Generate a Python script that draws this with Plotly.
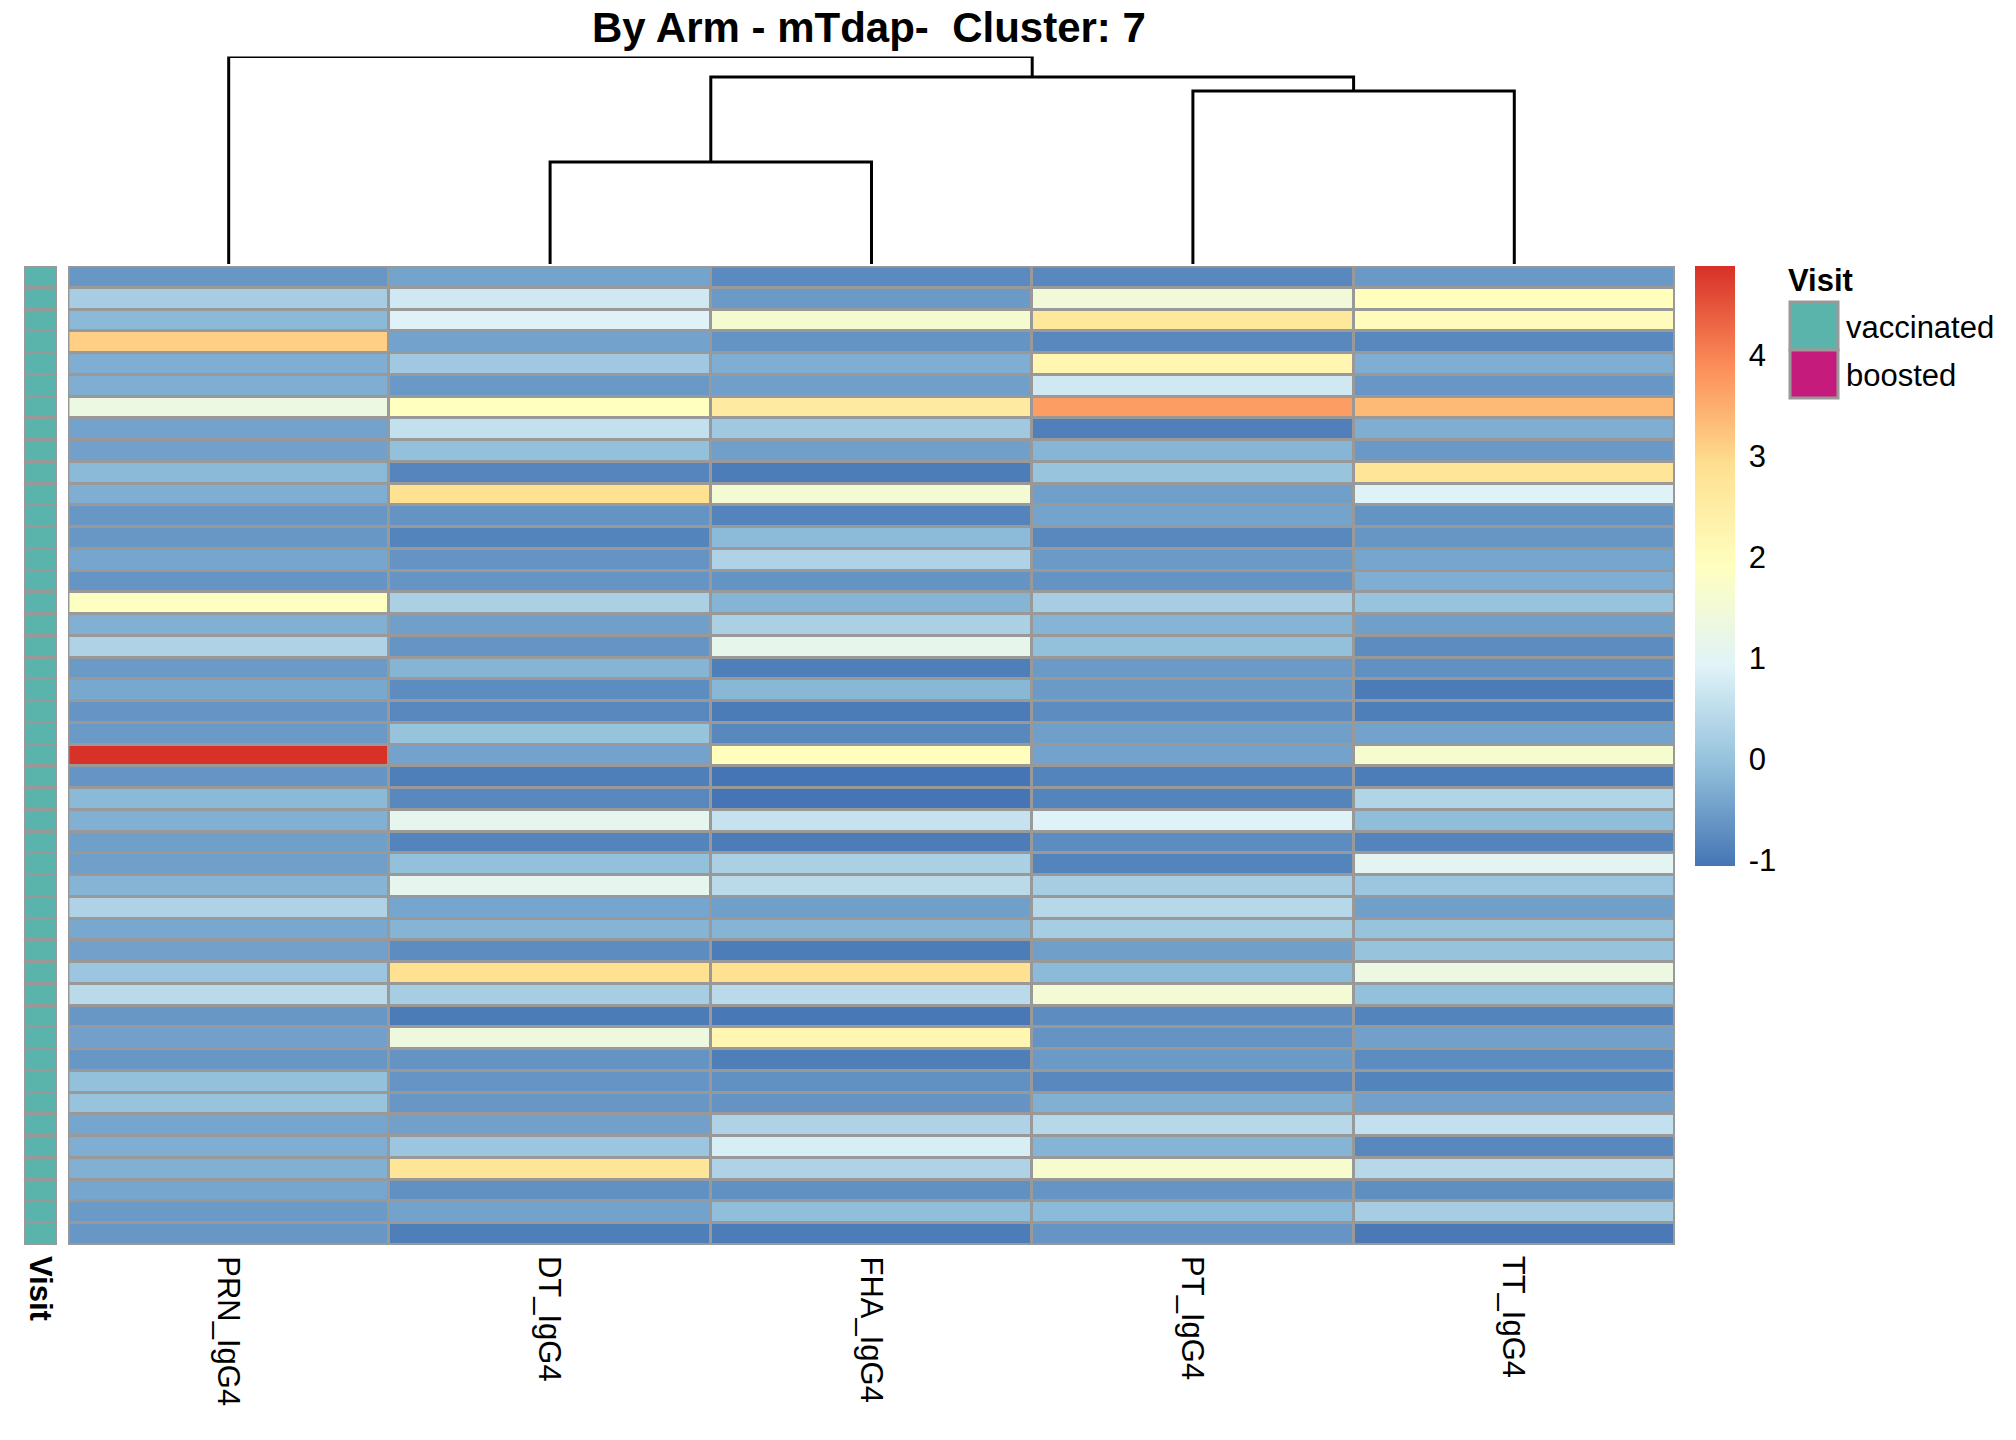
import plotly.graph_objects as go

W, H = 2016, 1440

# ---------------- data ----------------
antigens = ["PRN_IgG4", "DT_IgG4", "FHA_IgG4", "PT_IgG4", "TT_IgG4"]

PRN = [-0.6, 0.2, -0.15, 3.1, -0.3, -0.3, 1.3, -0.46, -0.48, -0.15, -0.3, -0.6, -0.6, -0.42, -0.63,
       1.85, -0.27, 0.3, -0.57, -0.38, -0.63, -0.57, 4.87, -0.63, -0.15, -0.27, -0.5, -0.5, -0.22, 0.3,
       -0.38, -0.48, 0.07, 0.45, -0.6, -0.48, -0.6, -0.04, 0.0, -0.42, -0.3, -0.27, -0.42, -0.57, -0.6]
DT = [-0.45, 0.72, 0.9, -0.46, 0.12, -0.58, 1.92, 0.55, -0.04, -0.85, 2.85, -0.66, -0.86, -0.66, -0.64,
      0.25, -0.5, -0.63, -0.22, -0.75, -0.8, 0.0, -0.46, -0.93, -0.8, 1.1, -0.86, -0.04, 1.1, -0.42,
      -0.22, -0.75, 2.85, 0.2, -0.97, 1.35, -0.66, -0.64, -0.6, -0.48, 0.07, 2.75, -0.69, -0.46, -0.93]
FHA = [-0.78, -0.57, 1.6, -0.65, -0.3, -0.5, 2.55, 0.12, -0.5, -0.95, 1.55, -0.86, -0.13, 0.3, -0.65,
       -0.22, 0.25, 1.15, -0.93, -0.17, -0.97, -0.8, 1.95, -1.06, -1.06, 0.6, -0.95, 0.25, 0.45, -0.5,
       -0.22, -0.95, 2.85, 0.45, -1.02, 2.2, -0.93, -0.69, -0.66, 0.3, 0.82, 0.3, -0.69, -0.07, -0.95]
PT = [-0.8, 1.45, 2.65, -0.8, 2.2, 0.72, 3.7, -0.92, -0.2, 0.02, -0.5, -0.45, -0.8, -0.57, -0.66,
      0.2, -0.22, -0.04, -0.57, -0.57, -0.75, -0.5, -0.46, -0.86, -0.86, 0.9, -0.75, -0.86, 0.2, 0.4,
      0.2, -0.5, -0.13, 1.55, -0.75, -0.66, -0.57, -0.8, -0.27, 0.4, -0.22, 1.65, -0.63, -0.13, -0.64]
TT = [-0.58, 1.95, 2.0, -0.8, -0.3, -0.6, 3.35, -0.3, -0.58, 2.75, 0.9, -0.65, -0.62, -0.42, -0.3,
      0.0, -0.5, -0.75, -0.69, -0.97, -0.93, -0.46, 1.65, -0.95, 0.33, -0.1, -0.86, 1.05, 0.07, -0.5,
      0.0, 0.0, 1.3, -0.04, -0.86, -0.48, -0.75, -0.86, -0.48, 0.55, -0.8, 0.4, -0.72, 0.2, -1.0]

visit = ["vaccinated"] * 45
visit_levels = ["vaccinated", "boosted"]
visit_colors = ["#5AB4AC", "#C51B7D"]

# column dendrogram (hclust style: negative = leaf index (1-based), positive = merge step)
merge_left = [-2, -4, 1, -1]
merge_right = [-3, -5, 2, 3]
merge_height = [102, 173, 187, 207.5]

colorbar_ticks = [-1, 0, 1, 2, 3, 4]
zmin, zmax = -1.06, 4.88
palette = ["#4575B4", "#91BFDB", "#E0F3F8", "#FFFFBF", "#FEE090", "#FC8D59", "#D73027"]

# ---------------- helpers ----------------
def fx(px):
    return px / W

def fy(py):
    return 1 - py / H

n_rows = len(PRN)
columns = [PRN, DT, FHA, PT, TT]
z = [[columns[c][r] for c in range(len(columns))] for r in range(n_rows)]
colorscale = [[i / (len(palette) - 1), c] for i, c in enumerate(palette)]

HM_X = [fx(68), fx(1675)]
HM_Y = [fy(1245), fy(266)]
AN_X = [fx(24), fx(57)]

fig = go.Figure()

fig.add_trace(go.Heatmap(
    z=z, x=list(range(len(antigens))), y=list(range(n_rows)),
    colorscale=colorscale, zmin=zmin, zmax=zmax, xgap=3, ygap=3,
    xaxis="x", yaxis="y",
    colorbar=dict(
        x=fx(1695), xanchor="left", y=fy(266), yanchor="top",
        len=(866 - 266) / H, lenmode="fraction", thickness=40, thicknessmode="pixels",
        outlinewidth=0, xpad=0, ypad=0,
        tickvals=colorbar_ticks, ticktext=[str(t) for t in colorbar_ticks],
        ticks="outside", ticklen=8, tickcolor="rgba(0,0,0,0)",
        tickfont=dict(family="Liberation Sans, Arial", size=31, color="black"),
    ),
))

# Visit annotation column
visit_code = [[visit_levels.index(v)] for v in visit]
fig.add_trace(go.Heatmap(
    z=visit_code, x=[0], y=list(range(n_rows)),
    colorscale=[[0, visit_colors[0]], [1, visit_colors[1]]], zmin=0, zmax=1,
    showscale=False, ygap=3, xaxis="x3", yaxis="y3",
))

# dendrogram segments
leaf_x = {i + 1: float(i) for i in range(len(antigens))}
node_x, node_h = {}, {}
dx, dy = [], []

def pos(ref):
    if ref < 0:
        return leaf_x[-ref], 0.0
    return node_x[ref], node_h[ref]

for k, (a, b, h) in enumerate(zip(merge_left, merge_right, merge_height), start=1):
    xa, ha = pos(a)
    xb, hb = pos(b)
    dx += [xa, xa, xb, xb, None]
    dy += [ha, h, h, hb, None]
    node_x[k] = (xa + xb) / 2
    node_h[k] = h

fig.add_trace(go.Scatter(
    x=dx, y=dy, mode="lines", line=dict(color="black", width=3),
    xaxis="x2", yaxis="y2", cliponaxis=False, hoverinfo="skip", showlegend=False,
))

ax_off = dict(showgrid=False, zeroline=False, showticklabels=False, ticks="", showline=False)
fig.update_layout(
    width=W, height=H, margin=dict(l=0, r=0, t=0, b=0),
    paper_bgcolor="white", plot_bgcolor="white", showlegend=False,
    font=dict(family="Liberation Sans, Arial", color="black"),
    xaxis=dict(domain=HM_X, range=[-0.5, 4.5], **ax_off),
    yaxis=dict(domain=HM_Y, range=[n_rows - 0.5, -0.5], **ax_off),
    xaxis2=dict(domain=HM_X, range=[-0.5, 4.5], anchor="y2", **ax_off),
    yaxis2=dict(domain=[fy(264), fy(56.5)], range=[0, max(merge_height)], anchor="x2", **ax_off),
    xaxis3=dict(domain=AN_X, range=[-0.5, 0.5], anchor="y3", **ax_off),
    yaxis3=dict(domain=HM_Y, range=[n_rows - 0.5, -0.5], anchor="x3", **ax_off),
)

shapes = [
    # grey backgrounds (cell borders)
    dict(type="rect", xref="paper", yref="paper", x0=HM_X[0], x1=HM_X[1], y0=HM_Y[0], y1=HM_Y[1],
         fillcolor="#999999", line=dict(width=0), layer="below"),
    dict(type="rect", xref="paper", yref="paper", x0=AN_X[0], x1=AN_X[1], y0=HM_Y[0], y1=HM_Y[1],
         fillcolor="#999999", line=dict(width=0), layer="below"),
    dict(type="rect", xref="x", yref="y", x0=-0.5, x1=4.5, y0=-0.5, y1=n_rows - 0.5,
         line=dict(color="#999999", width=3)),
    dict(type="rect", xref="x3", yref="y3", x0=-0.5, x1=0.5, y0=-0.5, y1=n_rows - 0.5,
         line=dict(color="#999999", width=3)),
]
# Visit legend boxes
box_tops = [302, 350]
for i, col in enumerate(visit_colors):
    shapes.append(dict(type="rect", xref="paper", yref="paper",
                       x0=fx(1790), x1=fx(1838), y0=fy(box_tops[i] + 48), y1=fy(box_tops[i]),
                       fillcolor=col, line=dict(color="#999999", width=3)))
fig.update_layout(shapes=shapes)

ann = []
ann.append(dict(text="By Arm - mTdap-  Cluster: 7", x=fx(869), y=fy(27.5), xref="paper", yref="paper",
                xanchor="center", yanchor="middle", showarrow=False,
                font=dict(size=42, weight="bold", color="black")))
for i, name in enumerate(antigens):
    ann.append(dict(text=name, x=i, y=fy(1254), xref="x", yref="paper", xanchor="center",
                    yanchor="top", textangle=90, showarrow=False, font=dict(size=31, color="black")))
ann.append(dict(text="Visit", x=(AN_X[0] + AN_X[1]) / 2, y=fy(1254), xref="paper", yref="paper",
                xanchor="center", yanchor="top", textangle=90, showarrow=False,
                font=dict(size=31, weight="bold", color="black")))
ann.append(dict(text="Visit", x=fx(1786), y=fy(281), xref="paper", yref="paper", xanchor="left",
                yanchor="middle", showarrow=False, font=dict(size=31, weight="bold", color="black")))
for i, lvl in enumerate(visit_levels):
    ann.append(dict(text=lvl, x=fx(1844), y=fy(box_tops[i] + 26), xref="paper", yref="paper",
                    xanchor="left", yanchor="middle", showarrow=False,
                    font=dict(size=31, color="black")))
fig.update_layout(annotations=ann)

# remove the default page margin so the figure sits at the window's top-left corner
fig.write_html("out.html", config={"displayModeBar": False},
               post_script="document.body.style.margin='0';")
